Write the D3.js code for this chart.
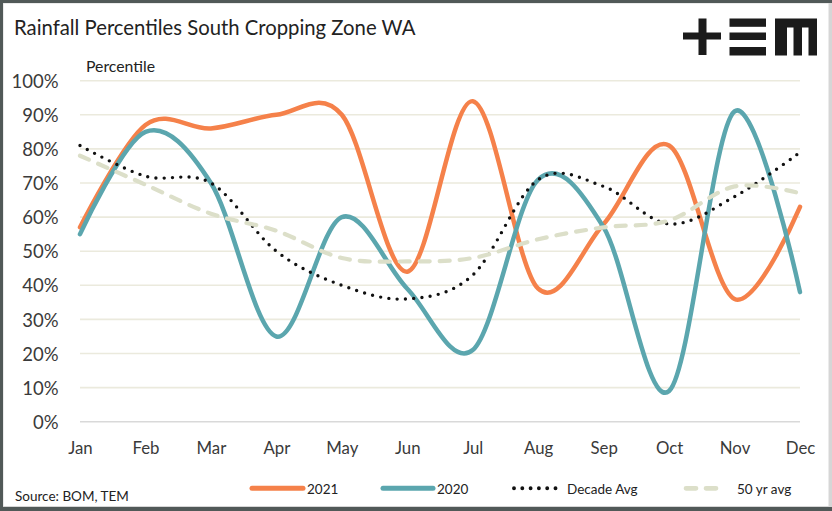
<!DOCTYPE html>
<html>
<head>
<meta charset="utf-8">
<script src="https://cdn.jsdelivr.net/npm/d3@7/dist/d3.min.js"></script>
<style>
  html, body { margin: 0; padding: 0; background: #fff; }
  svg { display: block; }
  text { font-family: Lato, "Open Sans", sans-serif; }
</style>
</head>
<body>
<svg id="chart" width="832" height="511"></svg>
<script>
// Monthly rainfall percentiles, South Cropping Zone WA
const months = ["Jan","Feb","Mar","Apr","May","Jun","Jul","Aug","Sep","Oct","Nov","Dec"];
const yr2021 = [57, 87, 86, 90, 90, 44, 94, 39, 58, 81, 36, 63];
const yr2020 = [55, 85, 70, 25, 60, 39, 21, 71, 57, 9, 91, 38];
const decadeAvg = [81, 72, 70, 50, 40, 36, 43, 71, 69, 58, 66, 79];
const fiftyYrAvg = [78, 69.5, 61, 56, 48, 47, 48, 53.5, 57, 59, 69, 67];
const yTicks = [0, 10, 20, 30, 40, 50, 60, 70, 80, 90, 100];

const series = [
  { name: "2021", values: yr2021, color: "#f5814a", width: 4.5, dash: null, cap: "round" },
  { name: "2020", values: yr2020, color: "#5ba6ae", width: 4.5, dash: null, cap: "round" },
  { name: "Decade Avg", values: decadeAvg, color: "#111111", width: 3.4, dash: "0 8.3", cap: "round" },
  { name: "50 yr avg", values: fiftyYrAvg, color: "#dcdfc9", width: 4.2, dash: "10 10", cap: "round" }
];

const svg = d3.select("#chart");
const W = 832, H = 511;

// frame
svg.append("rect").attr("x", 0).attr("y", 0).attr("width", W).attr("height", H).attr("fill", "#515958");
svg.append("rect").attr("x", 3).attr("y", 3).attr("width", W - 3).attr("height", 504).attr("fill", "#d6d6d6");
svg.append("rect").attr("x", 3.5).attr("y", 3.5).attr("width", 825).attr("height", 502.5).attr("fill", "#ffffff");

const x = d3.scalePoint().domain(months).range([80, 800]);
const y = d3.scaleLinear().domain([0, 100]).range([421.7, 80.7]);

// gridlines
const grid = svg.append("g");
grid.selectAll("line").data(yTicks).join("line")
  .attr("x1", 80).attr("x2", 800)
  .attr("y1", d => y(d)).attr("y2", d => y(d))
  .attr("stroke", d => d === 0 ? "#d9d9d9" : "#ebeadd")
  .attr("stroke-width", 1.6);

// y axis labels
const yAxis = d3.axisLeft(y).tickValues(yTicks).tickSize(0).tickPadding(0)
  .tickFormat(d => d + "%");
svg.append("g").attr("transform", "translate(58.5,0)").call(yAxis)
  .call(g => g.select(".domain").remove())
  .call(g => g.selectAll("text")
    .attr("font-family", "Lato, sans-serif")
    .attr("font-size", 18.5).attr("fill", "#3a3a3a").attr("dy", "0.36em"));

// x axis labels
const xAxis = d3.axisBottom(x).tickSize(0).tickPadding(0);
svg.append("g").attr("transform", "translate(0,441.5)").call(xAxis)
  .call(g => g.select(".domain").remove())
  .call(g => g.selectAll("text")
    .attr("font-family", "Lato, sans-serif")
    .attr("font-size", 16.8).attr("fill", "#3a3a3a").attr("dy", "0.75em"));

// series lines
const line = d3.line()
  .x((d, i) => x(months[i]))
  .y(d => y(d))
  .curve(d3.curveCardinal.tension(0));

svg.append("g").selectAll("path").data(series).join("path")
  .attr("d", d => line(d.values))
  .attr("fill", "none")
  .attr("stroke", d => d.color)
  .attr("stroke-width", d => d.width)
  .attr("stroke-linecap", d => d.cap)
  .attr("stroke-linejoin", "round")
  .attr("stroke-dasharray", d => d.dash);

// title and axis caption
svg.append("text").attr("x", 14).attr("y", 35)
  .attr("font-size", 20.3).attr("fill", "#222").text("Rainfall Percentiles South Cropping Zone WA");
svg.append("text").attr("x", 86).attr("y", 71.5)
  .attr("font-size", 15.8).attr("fill", "#222").text("Percentile");

// source
svg.append("text").attr("x", 15).attr("y", 501)
  .attr("font-size", 13.5).attr("fill", "#222").text("Source: BOM, TEM");

// legend
const legendItems = [
  { s: series[0], x1: 252, x2: 303, tx: 307 },
  { s: series[1], x1: 383, x2: 433, tx: 437 },
  { s: series[2], x1: 514, x2: 560, tx: 567 },
  { s: series[3], x1: 686, x2: 724, tx: 737 }
];
const lg = svg.append("g");
legendItems.forEach(it => {
  lg.append("line")
    .attr("x1", it.x1).attr("x2", it.x2).attr("y1", 488.3).attr("y2", 488.3)
    .attr("stroke", it.s.color).attr("stroke-width", it.s.width + 0.5)
    .attr("stroke-linecap", "round")
    .attr("stroke-dasharray", it.s.dash);
  lg.append("text").attr("x", it.tx).attr("y", 493.5)
    .attr("font-size", 13.5).attr("fill", "#222").text(it.s.name);
});

// brand mark
const logo = svg.append("g").attr("fill", "#1b1b1b");
// plus
logo.append("rect").attr("x", 683).attr("y", 32.5).attr("width", 38).attr("height", 7);
logo.append("rect").attr("x", 698.5).attr("y", 18.5).attr("width", 8).attr("height", 36.5);
// three bars
logo.append("rect").attr("x", 729.5).attr("y", 18.5).attr("width", 36.5).attr("height", 8.3);
logo.append("rect").attr("x", 729.5).attr("y", 32.5).attr("width", 36.5).attr("height", 7.5);
logo.append("rect").attr("x", 729.5).attr("y", 47).attr("width", 36.5).attr("height", 8.5);
// m
logo.append("path").attr("d",
  "M775,18.5 H817 V55.5 H808.5 V27.5 H802 V55.5 H793.5 V27.5 H787 V55.5 H775 Z");
</script>
</body>
</html>
